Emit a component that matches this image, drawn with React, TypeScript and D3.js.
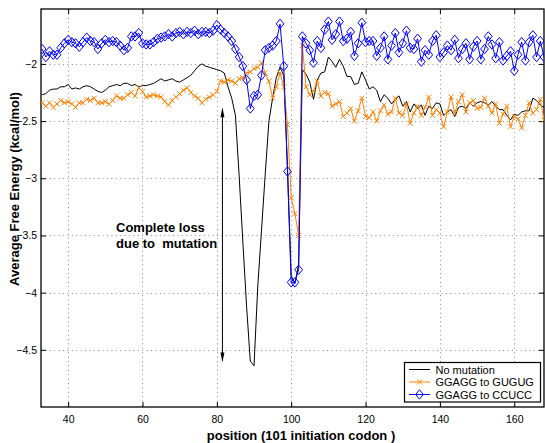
import React, { useRef, useEffect } from 'react';
import * as d3 from 'd3';

// position along the sequence (101 = initiation codon)
const positions = d3.range(33, 169);

const noMutation = [
  -2.27, -2.26, -2.23, -2.22, -2.22, -2.2, -2.2, -2.18, -2.22, -2.21,
  -2.22, -2.2, -2.19, -2.2, -2.22, -2.24, -2.25, -2.23, -2.2, -2.19,
  -2.18, -2.19, -2.17, -2.17, -2.19, -2.18, -2.2, -2.19, -2.19, -2.18,
  -2.17, -2.15, -2.13, -2.15, -2.14, -2.13, -2.15, -2.16, -2.14, -2.12,
  -2.1, -2.06, -2.02, -2.0, -2.02, -2.03, -2.04, -2.05, -2.06, -2.08,
  -2.2, -2.3, -2.45, -2.98, -3.56, -4.12, -4.6, -4.64, -3.95, -3.46,
  -2.97, -2.5, -2.3, -2.12, -2.03, -2.1, -2.9, -3.85, -3.92, -3.75,
  -2.05, -2.09, -2.16, -2.31, -2.14, -2.08, -2.07, -1.94, -1.98, -2.03,
  -1.96, -2.02, -2.11, -2.11, -2.18, -2.17, -2.07, -2.14, -2.22, -2.2,
  -2.23, -2.33, -2.27, -2.3, -2.35, -2.31, -2.28, -2.37, -2.33, -2.42,
  -2.35, -2.39, -2.36, -2.45, -2.37, -2.39, -2.34, -2.35, -2.45, -2.42,
  -2.4, -2.46, -2.38, -2.37, -2.39, -2.34, -2.37, -2.34, -2.33, -2.34,
  -2.36, -2.33, -2.37, -2.4, -2.4, -2.45, -2.49, -2.44, -2.45, -2.42,
  -2.41, -2.41, -2.3, -2.32, -2.36, -2.38
];

const toGUGUG = [
  -2.34, -2.37, -2.34, -2.38, -2.35, -2.32, -2.34, -2.33, -2.35, -2.38,
  -2.34, -2.34, -2.31, -2.32, -2.3, -2.34, -2.34, -2.33, -2.35, -2.32,
  -2.28, -2.3, -2.3, -2.27, -2.25, -2.28, -2.21, -2.24, -2.29, -2.28,
  -2.27, -2.28, -2.29, -2.33, -2.36, -2.32, -2.29, -2.26, -2.23, -2.21,
  -2.25, -2.28, -2.3, -2.34, -2.31, -2.29, -2.27, -2.24, -2.15, -2.16,
  -2.14, -2.15, -2.17, -2.13, -2.12, -2.08, -2.07, -2.04, -2.03, -1.99,
  -2.08, -2.15, -2.3, -2.2, -2.08, -2.2, -2.53, -3.17, -3.31, -3.5,
  -1.84, -2.2, -2.27, -2.24, -2.15, -2.28, -2.25, -2.26, -2.37, -2.35,
  -2.33, -2.46, -2.43, -2.39, -2.5, -2.41, -2.3, -2.46, -2.47, -2.42,
  -2.5, -2.41, -2.36, -2.44, -2.42, -2.3, -2.43, -2.45, -2.35, -2.52,
  -2.43, -2.37, -2.45, -2.38, -2.29, -2.45, -2.4, -2.43, -2.55, -2.42,
  -2.29, -2.43, -2.33, -2.27, -2.42, -2.34, -2.32, -2.39, -2.38, -2.3,
  -2.37, -2.43, -2.35, -2.52, -2.44, -2.37, -2.55, -2.46, -2.48, -2.56,
  -2.45, -2.34, -2.43, -2.4, -2.31, -2.49
];

const toCCUCC = [
  -1.87, -1.94, -1.89, -1.92, -1.92, -1.86, -1.82, -1.79, -1.81, -1.82,
  -1.85, -1.81, -1.77, -1.8, -1.81, -1.87, -1.82, -1.79, -1.81, -1.8,
  -1.81, -1.84, -1.88, -1.86, -1.76, -1.76, -1.73, -1.82, -1.83, -1.83,
  -1.81, -1.78, -1.77, -1.76, -1.74, -1.76, -1.73, -1.72, -1.74, -1.72,
  -1.73, -1.71, -1.74, -1.72, -1.72, -1.73, -1.71, -1.66, -1.7, -1.73,
  -1.76, -1.8, -1.87, -1.94, -2.02, -2.14, -2.39, -2.28, -2.27, -2.1,
  -1.88, -1.86, -1.84, -1.8, -1.65, -2.02, -2.94, -3.91, -3.91, -3.8,
  -1.76, -1.82, -1.88, -1.99, -1.8, -1.86, -1.7, -1.63, -1.79, -1.74,
  -1.63, -1.8, -1.78, -1.72, -1.93, -1.82, -1.64, -1.81, -1.8, -1.8,
  -1.93, -1.86, -1.76, -1.96, -1.84, -1.73, -1.9, -1.82, -1.71, -1.86,
  -1.87, -1.78, -1.98, -1.88, -1.92, -1.8, -1.75, -1.94, -1.9, -1.84,
  -1.88, -1.79, -1.95, -1.87, -1.82, -1.96, -1.85, -1.8, -1.96, -1.87,
  -1.76, -1.83, -1.95, -1.81, -1.97, -1.93, -1.89, -2.06, -1.92, -1.81,
  -1.97, -1.81, -1.75, -1.94, -1.8, -1.94
];

const xTicks = [40, 60, 80, 100, 120, 140, 160];
const yTicks = [-4.5, -4, -3.5, -3, -2.5, -2];

const seriesNames = ['No mutation', 'GGAGG to GUGUG', 'GGAGG to CCUCC'];
const seriesColors = ['#000000', '#ff8000', '#0000ff'];
const seriesMarkers = ['none', 'x', 'diamond'];

// arrow annotation: x position, top and bottom energy
const arrowAt = [81.5, -2.38, -4.61];
const noteLines = ['Complete loss', 'due to  mutation'];

const xMark = 'M-2.5,-2.5L2.5,2.5M-2.5,2.5L2.5,-2.5';
const diamond = 'M0,-4.7L3.9,0L0,4.7L-3.9,0Z';

const App = () => {
  const svgRef = useRef(null);

  useEffect(() => {
    const svg = d3.select(svgRef.current);
    svg.selectAll('*').remove();

    const width = 545;
    const height = 443;
    const left = 41, right = 544, top = 9, bottom = 407;
    const font = 'Liberation Sans, Arial, Helvetica, sans-serif';

    const x = d3.scaleLinear().domain([32.7, 168]).range([left, right]);
    const y = d3.scaleLinear().domain([-5, -1.52]).range([bottom, top]);

    svg.attr('width', width).attr('height', height);

    svg.append('rect').attr('width', width).attr('height', height).attr('fill', '#fff');

    svg.append('defs').append('clipPath').attr('id', 'plotclip')
      .append('rect')
      .attr('x', left).attr('y', top)
      .attr('width', right - left).attr('height', bottom - top);

    // dotted grid
    const grid = svg.append('g').attr('stroke', '#8a8a8a').attr('stroke-width', 1)
      .attr('stroke-dasharray', '1,3.4');
    grid.selectAll('.gx').data(xTicks).join('line')
      .attr('x1', d => Math.round(x(d)) + 0.5).attr('x2', d => Math.round(x(d)) + 0.5)
      .attr('y1', top).attr('y2', bottom);
    grid.selectAll('.gy').data(yTicks).join('line')
      .attr('y1', d => Math.round(y(d)) + 0.5).attr('y2', d => Math.round(y(d)) + 0.5)
      .attr('x1', left).attr('x2', right);

    const fmt = d => String(d).replace('-', '\u2212');

    const xAxis = svg.append('g')
      .attr('transform', `translate(0,${bottom})`)
      .call(d3.axisBottom(x).tickValues(xTicks).tickFormat(fmt).tickSize(-5).tickPadding(9));
    const yAxis = svg.append('g')
      .attr('transform', `translate(${left},0)`)
      .call(d3.axisLeft(y).tickValues(yTicks).tickFormat(fmt).tickSize(-5).tickPadding(4));
    svg.append('g')
      .attr('transform', `translate(0,${top})`)
      .call(d3.axisTop(x).tickValues(xTicks).tickFormat('').tickSize(-5));
    svg.append('g')
      .attr('transform', `translate(${right},0)`)
      .call(d3.axisRight(y).tickValues(yTicks).tickFormat('').tickSize(-5));

    svg.selectAll('.domain').remove();
    svg.selectAll('.tick line').attr('stroke', '#000');
    [xAxis, yAxis].forEach(a => a.selectAll('text')
      .attr('font-family', font).attr('font-size', '10.5px').attr('fill', '#000'));

    svg.append('rect')
      .attr('x', left).attr('y', top)
      .attr('width', right - left).attr('height', bottom - top)
      .attr('fill', 'none').attr('stroke', '#000').attr('stroke-width', 1.3);

    // series
    const allSeries = [noMutation, toGUGUG, toCCUCC];
    const line = d3.line().x((d, i) => x(positions[i])).y(d => y(d));
    const plot = svg.append('g').attr('clip-path', 'url(#plotclip)');

    allSeries.forEach((vals, s) => {
      plot.append('path')
        .datum(vals)
        .attr('d', line)
        .attr('fill', 'none')
        .attr('stroke', seriesColors[s])
        .attr('stroke-width', 1);
      if (seriesMarkers[s] !== 'none') {
        plot.append('g').selectAll('path').data(vals).join('path')
          .attr('transform', (d, i) => `translate(${x(positions[i])},${y(d)})`)
          .attr('d', seriesMarkers[s] === 'x' ? xMark : diamond)
          .attr('fill', 'none')
          .attr('stroke', seriesColors[s])
          .attr('stroke-width', 1);
      }
    });

    // double-headed arrow
    const ax = x(arrowAt[0]);
    const ay1 = y(arrowAt[1]);
    const ay2 = y(arrowAt[2]);
    svg.append('line')
      .attr('x1', ax).attr('x2', ax).attr('y1', ay1 + 8).attr('y2', ay2 - 8)
      .attr('stroke', '#000').attr('stroke-width', 1);
    svg.append('path')
      .attr('d', `M${ax},${ay1}L${ax - 2},${ay1 + 10}L${ax + 2},${ay1 + 10}Z`)
      .attr('fill', '#000');
    svg.append('path')
      .attr('d', `M${ax},${ay2}L${ax - 2},${ay2 - 10}L${ax + 2},${ay2 - 10}Z`)
      .attr('fill', '#000');

    svg.append('text')
      .attr('x', 116).attr('y', 232)
      .attr('font-family', font).attr('font-size', '13px').attr('font-weight', 'bold')
      .style('white-space', 'pre')
      .selectAll('tspan').data(noteLines).join('tspan')
      .attr('x', 116).attr('dy', (d, i) => (i === 0 ? 0 : 15.5))
      .text(d => d);

    // axis titles
    svg.append('text')
      .attr('x', 301).attr('y', 440)
      .attr('text-anchor', 'middle')
      .attr('font-family', font).attr('font-size', '13px').attr('font-weight', 'bold')
      .text('position (101 initiation codon )');
    svg.append('text')
      .attr('transform', 'translate(18.5,189) rotate(-90)')
      .attr('text-anchor', 'middle')
      .attr('font-family', font).attr('font-size', '13px').attr('font-weight', 'bold')
      .text('Average Free Energy (kcal/mol)');

    // legend
    const lg = svg.append('g');
    lg.append('rect')
      .attr('x', 404.5).attr('y', 362.5).attr('width', 136).attr('height', 39.5)
      .attr('fill', '#fff').attr('stroke', '#000').attr('stroke-width', 1.2);
    seriesNames.forEach((name, s) => {
      const ry = 369.5 + s * 12.5;
      lg.append('line')
        .attr('x1', 409).attr('x2', 430).attr('y1', ry).attr('y2', ry)
        .attr('stroke', seriesColors[s]).attr('stroke-width', 1);
      if (seriesMarkers[s] !== 'none') {
        lg.append('path')
          .attr('transform', `translate(419.5,${ry})`)
          .attr('d', seriesMarkers[s] === 'x' ? xMark : diamond)
          .attr('fill', 'none').attr('stroke', seriesColors[s]);
      }
      lg.append('text')
        .attr('x', 435.5).attr('y', ry + 4)
        .attr('font-family', font).attr('font-size', '11px')
        .text(name);
    });
  }, []);

  return (
    <svg ref={svgRef} style={{ position: 'absolute', left: 0, top: 0 }}></svg>
  );
};

export default App;
